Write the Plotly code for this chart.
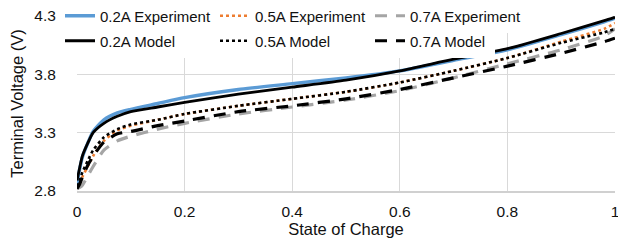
import plotly.graph_objects as go

soc = [0, 0.005, 0.01, 0.02, 0.03, 0.05, 0.075, 0.1, 0.15, 0.2, 0.3, 0.4, 0.5, 0.6, 0.7, 0.8, 0.9, 0.98, 1.0]

exp_02 = [2.86, 2.99, 3.09, 3.21, 3.31, 3.41, 3.47, 3.50, 3.55, 3.60, 3.67, 3.72, 3.77, 3.83, 3.92, 4.01, 4.14, 4.25, 4.28]
exp_05 = [2.82, 2.86, 2.92, 3.01, 3.10, 3.23, 3.32, 3.36, 3.41, 3.46, 3.53, 3.59, 3.65, 3.73, 3.83, 3.94, 4.08, 4.19, 4.24]
exp_07 = [2.82, 2.83, 2.85, 2.93, 3.01, 3.15, 3.23, 3.27, 3.33, 3.38, 3.46, 3.52, 3.58, 3.66, 3.77, 3.89, 4.01, 4.13, 4.19]
mod_02 = [2.89, 3.00, 3.10, 3.21, 3.30, 3.38, 3.44, 3.48, 3.52, 3.56, 3.63, 3.69, 3.75, 3.83, 3.93, 4.02, 4.15, 4.26, 4.29]
mod_05 = [2.84, 2.89, 2.96, 3.06, 3.15, 3.26, 3.33, 3.37, 3.41, 3.46, 3.53, 3.59, 3.65, 3.73, 3.83, 3.94, 4.07, 4.16, 4.19]
mod_07 = [2.82, 2.86, 2.92, 3.02, 3.10, 3.22, 3.29, 3.31, 3.36, 3.40, 3.48, 3.53, 3.59, 3.67, 3.77, 3.87, 3.98, 4.08, 4.11]

x_ticks = [0, 0.2, 0.4, 0.6, 0.8, 1]
x_tick_labels = ["0", "0.2", "0.4", "0.6", "0.8", "1"]
y_ticks = [2.8, 3.3, 3.8, 4.3]
y_tick_labels = ["2.8", "3.3", "3.8", "4.3"]

# name, values, colour, dash, width, legend, legend entry width
series = [
    ("0.2A Experiment", exp_02, "#5B9BD5", "solid", 3.4, "legend", 110),
    ("0.5A Experiment", exp_05, "#ED7D31", "dot", 2.6, "legend", 110),
    ("0.7A Experiment", exp_07, "#A5A5A5", "12px,9px", 3.2, "legend", 112),
    ("0.2A Model", mod_02, "#000000", "solid", 2.8, "legend2", 110),
    ("0.5A Model", mod_05, "#000000", "dot", 2.6, "legend2", 110),
    ("0.7A Model", mod_07, "#000000", "12px,9px", 3.2, "legend2", 80),
]

fig = go.Figure()
for name, vals, color, dash, width, lg, lw in series:
    fig.add_trace(go.Scatter(
        x=soc, y=vals, name=name, mode="lines",
        line=dict(color=color, dash=dash, width=width, shape="spline", smoothing=0.6),
        legend=lg, legendwidth=lw,
    ))

# page body has an 8px default margin, so the figure is 8px smaller than the window
W, H = 618, 233
font_family = "Liberation Sans, Arial, sans-serif"
text_color = "#111111"
legend_common = dict(
    orientation="h", xref="container", yref="container", xanchor="left", yanchor="middle",
    bgcolor="white", borderwidth=0, entrywidthmode="pixels",
    font=dict(family=font_family, size=15, color=text_color), itemwidth=30,
)

fig.update_layout(
    width=W, height=H,
    margin=dict(l=69, r=11, t=8, b=50, autoexpand=False),
    paper_bgcolor="white", plot_bgcolor="white",
    font=dict(family=font_family, size=15.5, color=text_color),
    showlegend=True,
    legend=dict(x=52 / W, y=1 - 8 / H, **legend_common),
    legend2=dict(x=52 / W, y=1 - 33 / H, **legend_common),
    xaxis=dict(
        range=[0, 1], tickvals=x_ticks, ticktext=x_tick_labels,
        showgrid=True, gridcolor="#d9d9d9", gridwidth=1, zeroline=False,
        showline=True, linecolor="#d0d0d0", linewidth=1.5,
        ticks="outside", ticklen=6, tickcolor="rgba(0,0,0,0)",
        ticklabeloverflow="allow",
        tickfont=dict(family=font_family, size=15.5, color=text_color),
        title=dict(text="State of Charge", standoff=2,
                   font=dict(family=font_family, size=16.5, color=text_color)),
    ),
    yaxis=dict(
        range=[2.8, 4.3], tickvals=y_ticks, ticktext=y_tick_labels,
        showgrid=True, gridcolor="#d9d9d9", gridwidth=1, zeroline=False,
        showline=False,
        ticks="outside", ticklen=17, tickcolor="rgba(0,0,0,0)",
        ticklabeloverflow="allow",
        tickfont=dict(family=font_family, size=15.5, color=text_color),
        title=dict(text="Terminal Voltage (V)", standoff=6,
                   font=dict(family=font_family, size=16.5, color=text_color)),
    ),
)

fig.write_html("out.html")
